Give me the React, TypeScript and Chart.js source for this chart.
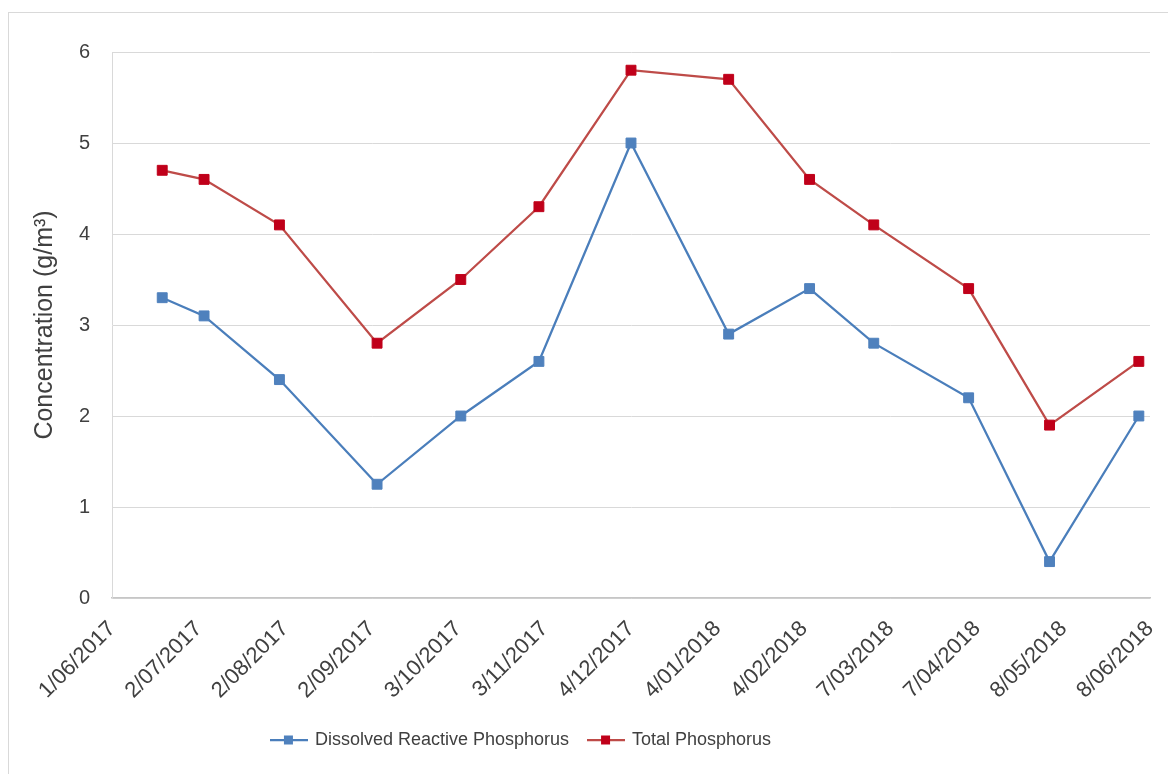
import React, { useEffect, useRef } from 'react';
import { Chart, registerables } from 'chart.js';

Chart.register(...registerables);

// Axis tick dates (31-day spacing, as on the date axis)
const tickDates = [
  '1/06/2017', '2/07/2017', '2/08/2017', '2/09/2017', '3/10/2017', '3/11/2017', '4/12/2017',
  '4/01/2018', '4/02/2018', '7/03/2018', '7/04/2018', '8/05/2018', '8/06/2018',
];

// Sampling dates
const sampleDates = [
  '19/06/2017', '4/07/2017', '31/07/2017', '4/09/2017', '4/10/2017', '1/11/2017', '4/12/2017',
  '8/01/2018', '6/02/2018', '1/03/2018', '4/04/2018', '3/05/2018', '4/06/2018',
];

// Concentrations, g/m³
const dissolvedReactiveP = [3.3, 3.1, 2.4, 1.25, 2.0, 2.6, 5.0, 2.9, 3.4, 2.8, 2.2, 0.4, 2.0];
const totalP = [4.7, 4.6, 4.1, 2.8, 3.5, 4.3, 5.8, 5.7, 4.6, 4.1, 3.4, 1.9, 2.6];

const seriesNames = ['Dissolved Reactive Phosphorus', 'Total Phosphorus'];
const yMin = 0;
const yMax = 6;
const yStep = 1;
const yTitle = 'Concentration (g/m\u00B3)';

const BLUE_LINE = '#4a7ebb';
const BLUE_MARK = '#4f81bd';
const RED_LINE = '#be4b48';
const RED_MARK = '#c0001a';
const TEXT = '#404040';
const GRID = '#d9d9d9';
const FONT = "'Liberation Sans', Arial, sans-serif";

const CANVAS_W = 1158;
const CANVAS_H = 760;
const LEGEND_SHIFT = 58;

function dayNumber(s: string): number {
  const [d, m, y] = s.split('/').map(Number);
  return Date.UTC(y, m - 1, d) / 86400000;
}
const originDay = dayNumber(tickDates[0]);
const toDay = (s: string) => dayNumber(s) - originDay;

function legendIcon(line: string, mark: string): HTMLCanvasElement {
  const c = document.createElement('canvas');
  c.width = 38;
  c.height = 12;
  const g = c.getContext('2d')!;
  g.strokeStyle = line;
  g.lineWidth = 2.25;
  g.beginPath();
  g.moveTo(0, 6);
  g.lineTo(38, 6);
  g.stroke();
  g.fillStyle = mark;
  g.fillRect(14, 1.5, 9, 9);
  return c;
}

export default function App() {
  const ref = useRef<HTMLCanvasElement>(null);

  useEffect(() => {
    if (!ref.current) return;
    const icons = [legendIcon(BLUE_LINE, BLUE_MARK), legendIcon(RED_LINE, RED_MARK)];
    const tickValues = tickDates.map(toDay);

    // moves the legend row to sit left of centre
    const legendShift = {
      id: 'legendShift',
      afterLayout(chart: any) {
        const l = chart.legend;
        if (l) {
          l.left -= LEGEND_SHIFT;
          l.right -= LEGEND_SHIFT;
        }
      },
    };

    const chart = new Chart(ref.current, {
      type: 'line',
      data: {
        datasets: [
          {
            label: seriesNames[0],
            data: sampleDates.map((d, i) => ({ x: toDay(d), y: dissolvedReactiveP[i] })),
            borderColor: BLUE_LINE,
            backgroundColor: BLUE_MARK,
            borderWidth: 2.25,
            pointStyle: 'rect',
            pointRadius: 7,
            pointBackgroundColor: BLUE_MARK,
            pointBorderColor: BLUE_MARK,
            pointBorderWidth: 1,
            tension: 0,
          },
          {
            label: seriesNames[1],
            data: sampleDates.map((d, i) => ({ x: toDay(d), y: totalP[i] })),
            borderColor: RED_LINE,
            backgroundColor: RED_MARK,
            borderWidth: 2.25,
            pointStyle: 'rect',
            pointRadius: 7,
            pointBackgroundColor: RED_MARK,
            pointBorderColor: RED_MARK,
            pointBorderWidth: 1,
            tension: 0,
          },
        ],
      },
      options: {
        responsive: false,
        animation: false,
        devicePixelRatio: 1,
        layout: { padding: { top: 39, left: 0, right: 17, bottom: 14 } },
        plugins: {
          tooltip: { enabled: false },
          legend: {
            position: 'bottom',
            labels: {
              usePointStyle: true,
              pointStyleWidth: 34,
              padding: 20,
              color: TEXT,
              font: { family: FONT, size: 18 },
              generateLabels: (c: any) =>
                Chart.defaults.plugins.legend.labels
                  .generateLabels(c)
                  .map((item: any, i: number) => ({ ...item, pointStyle: icons[i] })),
            },
          },
        },
        scales: {
          x: {
            type: 'linear',
            min: tickValues[0],
            max: tickValues[tickValues.length - 1],
            afterBuildTicks: (scale: any) => {
              scale.ticks = tickValues.map((v) => ({ value: v }));
            },
            afterFit: (scale: any) => {
              scale.height = 113;
              scale.paddingLeft = 0;
              scale.paddingRight = 0;
            },
            grid: { display: false, drawTicks: false },
            border: { display: true, color: '#c6c6c6', width: 1.5 },
            ticks: {
              autoSkip: false,
              minRotation: 45,
              maxRotation: 45,
              padding: 18,
              color: TEXT,
              font: { family: FONT, size: 22 },
              callback: (v: any) => {
                const idx = tickValues.indexOf(Number(v));
                return idx >= 0 ? tickDates[idx] : '';
              },
            },
          },
          y: {
            min: yMin,
            max: yMax,
            afterFit: (scale: any) => {
              scale.width = 103;
            },
            grid: { color: GRID, lineWidth: 1, drawTicks: false },
            border: { display: true, color: GRID, width: 1 },
            ticks: {
              stepSize: yStep,
              padding: 22,
              color: TEXT,
              font: { family: FONT, size: 20 },
            },
            title: {
              display: true,
              text: yTitle,
              color: TEXT,
              padding: { top: 21, bottom: 0 },
              font: { family: FONT, size: 25 },
            },
          },
        },
      },
      plugins: [legendShift],
    });

    return () => chart.destroy();
  }, []);

  return (
    <div
      style={{
        position: 'absolute',
        left: 8,
        top: 12,
        width: CANVAS_W + 1,
        height: CANVAS_H + 1,
        borderLeft: '1px solid #d9d9d9',
        borderTop: '1px solid #d9d9d9',
        background: '#ffffff',
      }}
    >
      <canvas ref={ref} width={CANVAS_W} height={CANVAS_H} style={{ display: 'block' }} />
    </div>
  );
}
